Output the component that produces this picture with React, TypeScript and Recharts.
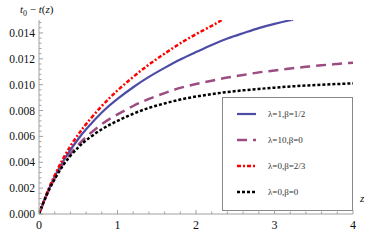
import React from "react";
import { LineChart, Line, XAxis, YAxis } from "recharts";

// z values and t0 - t(z) readings (x 1e-3) per curve
const zBlue = [0, 0.1, 0.2, 0.3, 0.4, 0.5, 0.6, 0.8, 1.0, 1.2, 1.4, 1.6, 1.8, 2.0, 2.2, 2.4, 2.6, 2.8, 3.0, 3.2, 3.22];
const vBlue = [0, 1.55, 2.9, 4.0, 4.95, 5.8, 6.55, 7.85, 8.9, 9.8, 10.6, 11.3, 11.95, 12.52, 13.07, 13.57, 13.98, 14.37, 14.7, 14.98, 15.0];

const zPurple = [0, 0.1, 0.2, 0.3, 0.4, 0.5, 0.6, 0.8, 1.0, 1.2, 1.4, 1.6, 1.8, 2.0, 2.2, 2.4, 2.6, 2.8, 3.0, 3.2, 3.4, 3.6, 3.8, 4.0];
const vPurple = [0, 1.5, 2.75, 3.8, 4.65, 5.35, 5.95, 6.95, 7.7, 8.35, 8.9, 9.35, 9.75, 10.05, 10.3, 10.55, 10.75, 10.95, 11.1, 11.25, 11.38, 11.5, 11.6, 11.7];

const zRed = [0, 0.1, 0.2, 0.3, 0.4, 0.5, 0.6, 0.8, 1.0, 1.2, 1.4, 1.6, 1.8, 2.0, 2.2, 2.33];
const vRed = [0, 1.6, 3.0, 4.2, 5.25, 6.15, 6.95, 8.35, 9.55, 10.6, 11.55, 12.4, 13.2, 13.9, 14.55, 15.0];

const zBlack = [0, 0.1, 0.2, 0.3, 0.4, 0.5, 0.6, 0.8, 1.0, 1.2, 1.4, 1.6, 1.8, 2.0, 2.2, 2.4, 2.6, 2.8, 3.0, 3.2, 3.4, 3.6, 3.8, 4.0];
const vBlack = [0, 1.5, 2.7, 3.7, 4.5, 5.15, 5.7, 6.55, 7.2, 7.75, 8.2, 8.55, 8.85, 9.08, 9.27, 9.43, 9.56, 9.67, 9.77, 9.86, 9.93, 9.99, 10.05, 10.1];

const xTicks = [0, 0.2, 0.4, 0.6, 0.8, 1, 1.2, 1.4, 1.6, 1.8, 2, 2.2, 2.4, 2.6, 2.8, 3, 3.2, 3.4, 3.6, 3.8, 4];
const xMajor = [0, 1, 2, 3, 4];
const yMajor = [0, 0.002, 0.004, 0.006, 0.008, 0.01, 0.012, 0.014];
const yTicks: number[] = [];
for (let i = 0; i <= 37; i++) yTicks.push(Math.round(i * 4) / 10000);

const toPoints = (zs: number[], vs: number[]) =>
  zs.map((z, i) => ({ z, v: vs[i] / 1000 }));

const series = [
  { name: "λ=1,β=1/2", data: toPoints(zBlue, vBlue), color: "#4c4ca6", dash: undefined, width: 2.2 },
  { name: "λ=10,β=0", data: toPoints(zPurple, vPurple), color: "#9b4c82", dash: "10 6", width: 2.5 },
  { name: "λ=0,β=2/3", data: toPoints(zRed, vRed), color: "#ff0000", dash: "4 2 2 2", width: 2.5 },
  { name: "λ=0,β=0", data: toPoints(zBlack, vBlack), color: "#000000", dash: "3 2", width: 2.5 },
];

const serif = "'Liberation Serif', 'DejaVu Serif', serif";
const axisGray = "#a0a0a0";

const isMajor = (v: number, list: number[]) => list.some((m) => Math.abs(m - v) < 1e-9);

const XTick = (props: any) => {
  const { x, y, payload } = props;
  const major = isMajor(payload.value, xMajor);
  return (
    <g>
      <line x1={x} x2={x} y1={y} y2={y - (major ? 4 : 2.5)} stroke={axisGray} />
      {major && (
        <text x={x} y={y + 15} textAnchor="middle" fontFamily={serif} fontSize={12} fill="#111">
          {payload.value}
        </text>
      )}
    </g>
  );
};

const YTick = (props: any) => {
  const { x, y, payload } = props;
  const major = isMajor(payload.value, yMajor);
  return (
    <g>
      <line x1={x} x2={x + (major ? 4 : 2.5)} y1={y} y2={y} stroke={axisGray} />
      {major && (
        <text x={x - 4} y={y + 4} textAnchor="end" fontFamily={serif} fontSize={11.5} fill="#111">
          {payload.value.toFixed(3)}
        </text>
      )}
    </g>
  );
};

// legend drawn inside the plot, lower right, like the original
const LegendBox = () => (
  <g transform="translate(222,97)">
    <rect x={0.5} y={0.5} width={130} height={113} fill="#fff" stroke="#888" />
    {series.map((s, i) => {
      const cy = 17 + i * 26;
      return (
        <g key={s.name}>
          <line x1={15} x2={34} y1={cy} y2={cy} stroke={s.color} strokeWidth={s.width} strokeDasharray={s.dash} />
          <text x={46} y={cy + 3} fontFamily={serif} fontSize={9} fill="#333">
            {s.name}
          </text>
        </g>
      );
    })}
  </g>
);

export default function App() {
  return (
    <div style={{ position: "absolute", left: 0, top: 0, width: 383, height: 240 }}>
      <LineChart width={383} height={240} margin={{ top: 20, right: 30, bottom: 0, left: 0 }}>
        <XAxis
          type="number"
          dataKey="z"
          domain={[0, 4]}
          ticks={xTicks}
          interval={0}
          tick={<XTick />}
          tickLine={false}
          tickSize={0}
          tickMargin={0}
          height={26}
          stroke={axisGray}
          allowDataOverflow
        />
        <YAxis
          type="number"
          dataKey="v"
          domain={[0, 0.015]}
          ticks={yTicks}
          interval={0}
          tick={<YTick />}
          tickLine={false}
          tickSize={0}
          tickMargin={0}
          width={39}
          stroke={axisGray}
          allowDataOverflow
        />
        {series.map((s) => (
          <Line
            key={s.name}
            data={s.data}
            dataKey="v"
            name={s.name}
            type="natural"
            stroke={s.color}
            strokeWidth={s.width}
            strokeDasharray={s.dash}
            dot={false}
            isAnimationActive={false}
          />
        ))}
        <LegendBox />
        <text x={20} y={13} fontFamily={serif} fontSize={11} fill="#111">
          <tspan fontStyle="italic">t</tspan>
          <tspan fontSize={8} dy={3}>0</tspan>
          <tspan dy={-3}> − </tspan>
          <tspan fontStyle="italic">t</tspan>
          <tspan>(</tspan>
          <tspan fontStyle="italic">z</tspan>
          <tspan>)</tspan>
        </text>
        <text x={360} y={202} fontFamily={serif} fontSize={11} fontStyle="italic" fill="#111">
          z
        </text>
      </LineChart>
    </div>
  );
}
